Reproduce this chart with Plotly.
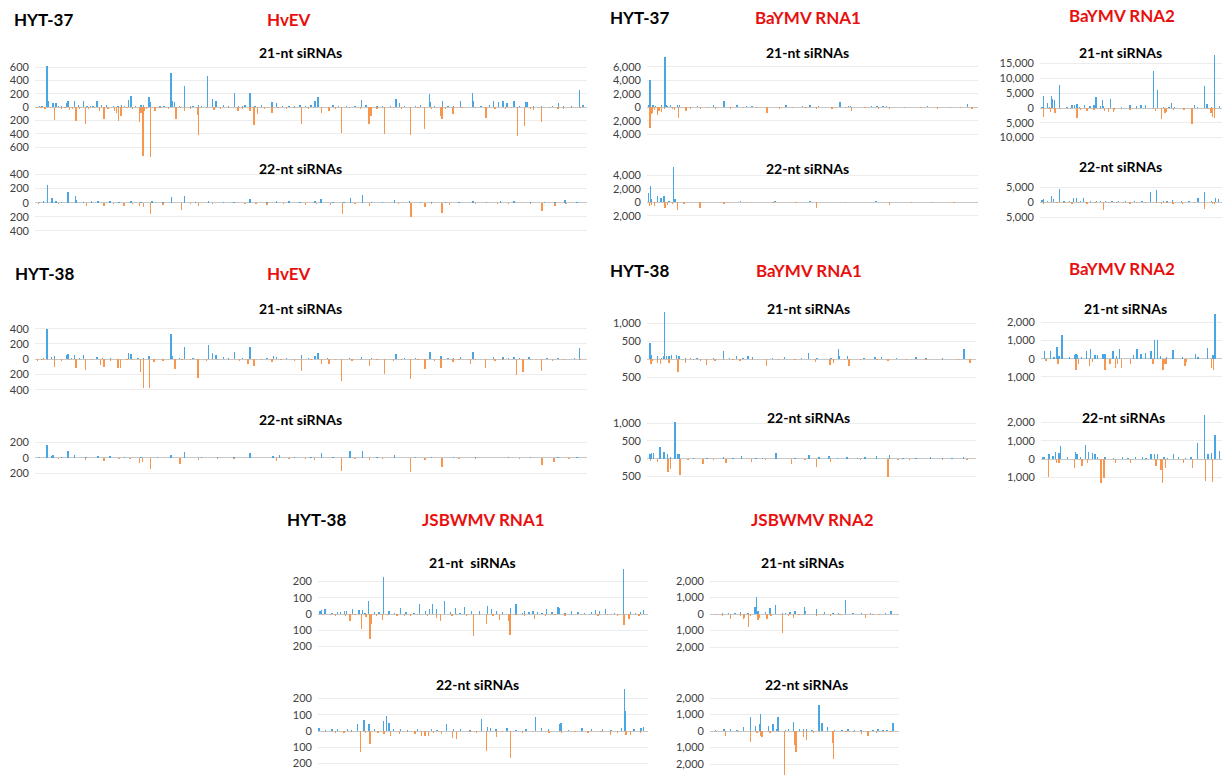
import plotly.graph_objects as go

W, H = 1232, 775

# ---------------- DATA (position along genome 0-1000, read counts) ----------------
# HYT-37 HvEV 21-nt
hv37_21_s_pos = [19, 21, 30, 35, 45, 54, 57, 69, 85, 98, 110, 127, 140, 155, 167, 172, 190, 205, 207, 225, 245, 248, 251, 270, 285, 311, 321, 327, 340, 361, 375, 389, 410, 429, 437, 460, 480, 507, 513, 540, 592, 620, 655, 661, 690, 716, 717, 740, 773, 794, 796, 833, 842, 850, 857, 870, 892, 895, 920, 951, 989, 996,
                 5, 10, 40, 63, 76, 92, 103, 118, 133, 148, 160, 180, 195, 215, 232, 260, 280, 295, 300, 335, 350, 368, 380, 398, 420, 448, 470, 490, 500, 525, 550, 565, 580, 600, 610, 630, 645, 670, 680, 700, 725, 750, 760, 785, 810, 825, 880, 905, 930, 940, 960, 975]
hv37_21_s_val = [622, 100, 70, 70, 20, 60, 100, 100, 90, 25, 100, 40, 20, 30, 110, 165, 30, 150, 80, 20, 520, 90, 80, 320, 25, 470, 130, 100, 40, 220, 20, 215, 30, 80, 60, 20, 30, 100, 160, 30, 110, 20, 130, 60, 25, 200, 80, 100, 100, 210, 100, 90, 80, 100, 60, 100, 80, 80, 25, 60, 260, 40,
                 15, 20, 25, 10, 30, 15, 20, 35, 10, 25, 20, 15, 30, 10, 20, 25, 15, 30, 20, 10, 25, 15, 30, 20, 10, 25, 20, 15, 30, 10, 20, 15, 25, 30, 10, 20, 15, 25, 10, 30, 20, 15, 25, 10, 20, 30, 15, 25, 10, 20, 15, 25]
hv37_21_a_pos = [2, 32, 60, 72, 78, 89, 115, 123, 142, 145, 149, 154, 187, 190, 194, 197, 207, 216, 254, 270, 293, 295, 323, 367, 389, 396, 402, 429, 483, 519, 533, 556, 606, 609, 634, 681, 707, 737, 739, 759, 819, 876, 889, 906, 920, 960,
                 8, 15, 25, 45, 52, 65, 95, 105, 130, 165, 175, 200, 225, 240, 262, 280, 310, 335, 350, 375, 415, 440, 455, 470, 495, 505, 545, 570, 590, 620, 650, 665, 695, 720, 745, 775, 800, 835, 855, 865, 900, 935, 950, 975, 990]
hv37_21_a_val = [-10, -185, -40, -210, -30, -250, -60, -170, -60, -80, -200, -130, -220, -80, -730, -60, -740, -60, -170, -60, -120, -410, -40, -50, -60, -260, -100, -80, -250, -90, -60, -380, -250, -130, -400, -420, -330, -130, -180, -100, -160, -430, -280, -40, -220, -20,
                 -15, -20, -10, -25, -15, -30, -20, -10, -25, -15, -20, -30, -10, -25, -15, -20, -10, -30, -15, -20, -25, -10, -30, -15, -20, -10, -25, -15, -30, -20, -10, -25, -15, -20, -30, -10, -15, -25, -20, -10, -30, -15, -20, -10, -15]

# HYT-37 HvEV 22-nt
hv37_22_s_pos = [12, 20, 28, 35, 57, 71, 73, 100, 112, 134, 172, 246, 270, 313, 389, 437, 507, 518, 572, 594, 652, 795, 870, 963,
                 5, 45, 85, 150, 190, 210, 230, 290, 340, 360, 420, 460, 480, 540, 560, 610, 630, 680, 700, 720, 745, 770, 820, 845, 900, 925, 945, 985]
hv37_22_s_val = [20, 247, 60, 20, 145, 95, 40, 20, 30, 30, 30, 75, 100, 20, 50, 20, 30, 50, 70, 110, 45, 20, 20, 40,
                 10, 15, 10, 15, 10, 20, 10, 15, 10, 15, 10, 20, 10, 15, 10, 15, 10, 20, 10, 15, 10, 15, 10, 20, 10, 15, 10, 15]
hv37_22_a_pos = [3, 91, 123, 159, 187, 195, 207, 230, 264, 295, 380, 420, 450, 490, 536, 557, 607, 682, 708, 739, 752, 860, 921, 945,
                 40, 60, 140, 175, 250, 280, 320, 345, 400, 470, 510, 580, 630, 660, 720, 780, 800, 840, 880, 900, 965, 990]
hv37_22_a_val = [-15, -40, -50, -40, -40, -60, -160, -30, -100, -40, -20, -30, -20, -30, -30, -160, -40, -210, -60, -140, -30, -20, -120, -50,
                 -15, -10, -20, -15, -10, -15, -20, -10, -15, -10, -20, -15, -10, -15, -20, -10, -15, -25, -10, -20, -15, -10]

# HYT-37 BaYMV RNA1 21-nt
b1_37_21_s_pos = [3, 6, 8, 15, 22, 41, 52, 55, 60, 68, 90, 95, 200, 231, 271, 316, 419, 492, 519, 583, 586, 610, 615, 696, 714, 724, 971,
                  120, 150, 170, 250, 300, 350, 380, 450, 470, 540, 650, 680, 750, 800, 850, 900, 930]
b1_37_21_s_val = [300, 4100, 500, 300, 250, 300, 7500, 300, 200, 400, 300, 300, 400, 930, 300, 150, 300, 300, 150, 730, 500, 200, 200, 200, 200, 250, 450,
                  100, 150, 100, 100, 150, 100, 100, 100, 150, 100, 100, 150, 100, 100, 150, 100, 100]
b1_37_21_a_pos = [6, 9, 12, 19, 29, 34, 41, 51, 74, 80, 92, 115, 160, 205, 362, 513, 558, 618, 734, 985,
                  130, 180, 250, 290, 330, 400, 440, 480, 560, 600, 660, 700, 780, 830, 880, 920, 950]
b1_37_21_a_val = [-3000, -1000, -800, -400, -1100, -600, -700, -300, -300, -400, -1600, -600, -300, -200, -900, -200, -300, -600, -200, -200,
                  -200, -150, -200, -150, -100, -200, -150, -100, -200, -150, -100, -200, -150, -100, -200, -150, -100]

# HYT-37 BaYMV RNA1 22-nt
b1_37_22_s_pos = [2, 7, 10, 29, 39, 49, 64, 78, 82, 281, 386, 492, 693,
                  130, 200, 330, 440, 560, 620, 760, 840, 900, 960]
b1_37_22_s_val = [1400, 2400, 500, 900, 700, 900, 200, 5200, 500, 200, 200, 150, 150,
                  100, 80, 100, 80, 100, 80, 100, 80, 100, 80]
b1_37_22_a_pos = [4, 10, 19, 52, 59, 74, 90, 110, 158, 231, 513, 734, 864,
                  300, 380, 450, 600, 800, 930]
b1_37_22_a_val = [-500, -400, -600, -900, -400, -300, -1100, -300, -800, -200, -800, -400, -100,
                  -100, -80, -100, -80, -100, -80]

# HYT-37 BaYMV RNA2 21-nt
b2_37_21_s_pos = [9, 15, 40, 49, 60, 67, 77, 104, 146, 174, 189, 201, 216, 243, 274, 296, 306, 330, 342, 348, 388, 449, 495, 531, 555, 579, 623, 645, 678, 711, 723, 741, 852, 866, 907, 920, 945, 962, 989]
b2_37_21_s_val = [500, 4100, 1800, 500, 4100, 3000, 2700, 7800, 500, 1000, 1000, 1200, 300, 1000, 700, 1000, 3700, 700, 2600, 800, 2900, 300, 1000, 800, 1000, 1000, 12500, 6200, 400, 500, 1800, 300, 1100, 500, 7500, 1200, 400, 18000, 600]
b2_37_21_a_pos = [15, 46, 55, 79, 110, 165, 201, 220, 256, 296, 330, 353, 375, 403, 408, 495, 531, 619, 637, 668, 687, 696, 736, 793, 837, 925, 943, 952, 962]
b2_37_21_a_val = [-3000, -500, -1200, -1700, -400, -300, -3400, -600, -1100, -800, -500, -1000, -1200, -1400, -600, -800, -300, -500, -1000, -3600, -1600, -1400, -600, -800, -5500, -400, -1700, -3200, -3300]

# HYT-37 BaYMV RNA2 22-nt
b2_37_22_s_pos = [9, 15, 40, 59, 73, 104, 183, 198, 238, 275, 308, 394, 608, 641, 678, 729, 870, 907, 967, 985,
                  130, 160, 220, 330, 360, 430, 470, 520, 560, 700, 780, 820, 945]
b2_37_22_s_val = [600, 1100, 500, 2000, 900, 4300, 1200, 1200, 1300, 300, 400, 500, 3200, 3900, 300, 800, 1500, 3300, 1200, 1000,
                  200, 300, 200, 300, 200, 200, 300, 200, 200, 300, 200, 300, 200]
b2_37_22_a_pos = [15, 92, 174, 256, 348, 375, 495, 531, 641, 668, 733, 784, 907, 949, 962,
                  50, 130, 210, 300, 420, 460, 580, 700, 850]
b2_37_22_a_val = [-600, -300, -700, -800, -2500, -400, -700, -200, -400, -800, -600, -500, -2200, -800, -500,
                  -200, -200, -300, -200, -300, -200, -200, -300, -200]

# HYT-38 HvEV 21-nt
hv38_21_s_pos = [19, 27, 33, 54, 57, 69, 85, 110, 167, 172, 205, 245, 248, 270, 313, 321, 327, 340, 361, 389, 432, 437, 483, 507, 513, 592, 655, 717, 737, 773, 795, 833, 850, 870, 897, 989,
                 5, 12, 40, 63, 78, 95, 120, 135, 150, 185, 195, 225, 260, 285, 300, 350, 375, 400, 420, 455, 470, 495, 530, 550, 570, 610, 630, 670, 690, 705, 750, 760, 810, 860, 880, 915, 930, 950, 965, 980]
hv38_21_s_val = [400, 30, 40, 60, 65, 50, 50, 30, 80, 70, 40, 330, 40, 165, 185, 80, 60, 30, 100, 155, 40, 30, 60, 40, 80, 35, 70, 100, 40, 30, 100, 25, 30, 25, 35, 150,
                 10, 15, 10, 20, 15, 10, 20, 15, 10, 20, 15, 10, 20, 15, 10, 20, 15, 10, 20, 15, 10, 20, 15, 10, 20, 15, 10, 20, 15, 10, 20, 15, 10, 20, 15, 10, 20, 15, 10, 20]
hv38_21_a_pos = [2, 32, 72, 89, 116, 123, 148, 153, 189, 195, 206, 214, 252, 294, 385, 396, 429, 483, 519, 533, 556, 607, 634, 681, 708, 737, 759, 791, 818, 874, 886, 920,
                 10, 20, 45, 60, 100, 135, 165, 175, 230, 265, 280, 310, 330, 350, 370, 410, 445, 470, 500, 545, 575, 590, 620, 650, 665, 695, 725, 770, 800, 835, 850, 900, 940, 960, 990]
hv38_21_a_val = [-20, -100, -120, -140, -80, -95, -110, -110, -160, -380, -370, -40, -130, -240, -60, -90, -40, -150, -60, -60, -280, -90, -190, -260, -130, -120, -40, -60, -110, -200, -160, -150,
                 -10, -15, -20, -10, -15, -20, -10, -15, -20, -10, -15, -20, -10, -15, -20, -10, -15, -20, -10, -15, -20, -10, -15, -20, -10, -15, -20, -10, -15, -20, -10, -15, -20, -10, -15]

# HYT-38 HvEV 22-nt
hv38_22_s_pos = [19, 27, 30, 57, 69, 112, 134, 245, 270, 389, 431, 443, 519, 571, 594, 652,
                 5, 45, 90, 160, 190, 220, 300, 330, 360, 470, 500, 540, 620, 690, 720, 760, 800, 860, 900, 950, 985]
hv38_22_s_val = [160, 20, 35, 80, 30, 20, 20, 30, 70, 60, 20, 30, 60, 80, 90, 40,
                 10, 10, 15, 10, 10, 15, 10, 10, 15, 10, 10, 15, 10, 10, 15, 10, 10, 15, 10, 10, 15]
hv38_22_a_pos = [3, 89, 123, 187, 193, 207, 261, 295, 437, 506, 556, 607, 681, 708, 739, 921, 943,
                 40, 70, 150, 170, 230, 330, 360, 400, 460, 490, 530, 580, 630, 660, 770, 800, 850, 880, 970]
hv38_22_a_val = [-10, -30, -40, -70, -50, -150, -80, -30, -40, -30, -170, -30, -190, -30, -120, -90, -50,
                 -15, -10, -20, -15, -10, -20, -15, -10, -20, -15, -10, -20, -15, -10, -20, -15, -10, -20, -15]

# HYT-38 BaYMV RNA1 21-nt
b1_38_21_s_pos = [6, 9, 11, 29, 41, 47, 51, 56, 64, 72, 88, 95, 115, 130, 200, 231, 271, 291, 306, 319, 417, 490, 517, 583, 586, 610, 694, 714, 820, 966,
                  150, 170, 250, 350, 380, 440, 470, 540, 560, 640, 660, 740, 760, 780, 850, 880, 900, 930]
b1_38_21_s_val = [450, 100, 120, 80, 50, 100, 1320, 80, 90, 130, 120, 90, 50, 40, 50, 240, 80, 50, 80, 60, 60, 170, 40, 300, 100, 80, 60, 70, 60, 300,
                  30, 20, 30, 20, 30, 20, 30, 20, 30, 20, 30, 20, 30, 20, 30, 20, 30, 20]
b1_38_21_a_pos = [9, 14, 29, 39, 64, 92, 115, 160, 178, 205, 281, 362, 513, 556, 568, 615, 734, 985,
                  140, 230, 260, 320, 400, 450, 600, 650, 700, 790, 850, 900, 950]
b1_38_21_a_val = [-120, -60, -90, -120, -90, -360, -100, -60, -160, -50, -50, -180, -70, -160, -100, -190, -60, -100,
                  -30, -20, -30, -20, -30, -20, -30, -20, -30, -20, -30, -20, -30]

# HYT-38 BaYMV RNA1 22-nt
b1_38_22_s_pos = [6, 10, 16, 37, 49, 59, 69, 83, 90, 95, 231, 286, 392, 492, 523, 553, 608, 664, 699, 739, 864, 965,
                  140, 180, 260, 330, 350, 450, 580, 640, 780, 820, 900, 930]
b1_38_22_s_val = [130, 150, 160, 320, 180, 120, 60, 1020, 130, 120, 50, 80, 150, 100, 60, 70, 60, 60, 90, 100, 50, 40,
                  20, 30, 20, 30, 20, 30, 20, 30, 20, 30, 20, 30]
b1_38_22_a_pos = [8, 29, 61, 69, 98, 122, 168, 239, 316, 439, 515, 558, 734, 764, 975,
                  200, 280, 360, 400, 480, 600, 650, 700, 800, 850, 900]
b1_38_22_a_val = [-60, -100, -370, -300, -450, -50, -140, -120, -80, -140, -230, -90, -500, -40, -40,
                  -30, -20, -30, -20, -30, -20, -30, -20, -30, -20, -30]

# HYT-38 BaYMV RNA2 21-nt
b2_38_21_s_pos = [18, 51, 70, 86, 97, 114, 156, 183, 192, 201, 223, 251, 271, 297, 311, 341, 353, 397, 418, 432, 511, 531, 553, 577, 608, 628, 645, 660, 696, 731, 782, 855, 870, 921, 952, 965]
b2_38_21_s_val = [450, 450, 100, 650, 150, 1300, 100, 200, 250, 200, 100, 400, 550, 200, 200, 250, 250, 400, 150, 550, 200, 550, 250, 300, 450, 1030, 1000, 150, 100, 500, 100, 250, 100, 600, 200, 2480]
b2_38_21_a_pos = [24, 92, 192, 205, 267, 284, 353, 381, 412, 421, 445, 494, 619, 674, 687, 696, 797, 806, 943, 956]
b2_38_21_a_val = [-100, -300, -600, -300, -400, -200, -600, -300, -500, -300, -500, -300, -300, -600, -300, -300, -400, -200, -500, -600]

# HYT-38 BaYMV RNA2 22-nt
b2_38_22_s_pos = [9, 18, 42, 64, 79, 97, 106, 143, 188, 197, 216, 243, 262, 284, 297, 311, 353, 522, 608, 628, 645, 733, 866, 907, 925, 943, 965, 989,
                  400, 450, 480, 560, 580, 680, 700, 760, 800, 830]
b2_38_22_s_val = [100, 100, 300, 150, 400, 350, 700, 100, 400, 300, 100, 750, 400, 350, 300, 100, 100, 100, 300, 300, 300, 250, 900, 2400, 250, 350, 1300, 450,
                  80, 100, 80, 100, 80, 100, 80, 100, 80, 100]
b2_38_22_a_pos = [40, 82, 97, 183, 225, 256, 331, 348, 412, 494, 637, 663, 672, 690, 788, 839, 910, 949]
b2_38_22_a_val = [-1000, -200, -200, -500, -400, -200, -1300, -1050, -200, -200, -400, -600, -1300, -500, -200, -500, -1200, -1250]

# HYT-38 JSBWMV RNA1 21-nt
js1_21_s_pos = [3, 8, 18, 56, 78, 84, 102, 122, 132, 151, 183, 196, 214, 248, 307, 324, 337, 346, 359, 383, 416, 443, 465, 490, 513, 526, 541, 583, 600, 627, 652, 667, 694, 729, 733, 769, 843, 855, 873, 928, 980, 990,
                40, 65, 140, 170, 230, 265, 290, 400, 430, 560, 620, 640, 680, 710, 750, 790, 810, 830, 900, 950, 965]
js1_21_s_val = [20, 25, 30, 15, 20, 20, 30, 25, 25, 80, 15, 225, 20, 35, 60, 20, 30, 60, 30, 80, 35, 45, 20, 20, 50, 30, 20, 35, 60, 20, 20, 15, 30, 40, 35, 20, 25, 20, 30, 275, 10, 25,
                8, 10, 8, 12, 8, 10, 8, 12, 8, 10, 8, 12, 8, 10, 8, 12, 8, 10, 8, 12, 8]
js1_21_a_pos = [35, 81, 95, 129, 143, 155, 159, 193, 238, 279, 359, 370, 405, 471, 511, 551, 577, 582, 626, 657, 930, 945, 976,
                10, 50, 110, 175, 210, 260, 300, 330, 420, 450, 490, 530, 600, 690, 720, 750, 800, 850, 880, 910]
js1_21_a_val = [-5, -15, -45, -90, -20, -155, -60, -35, -15, -15, -25, -45, -15, -135, -60, -35, -40, -130, -15, -30, -65, -30, -15,
                -8, -10, -8, -12, -8, -10, -8, -12, -8, -10, -8, -12, -8, -10, -8, -12, -8, -10, -8, -12]

# HYT-38 JSBWMV RNA1 22-nt
js1_22_s_pos = [0, 56, 86, 117, 137, 152, 196, 205, 213, 228, 248, 343, 388, 432, 496, 513, 523, 573, 631, 660, 678, 734, 738, 802, 864, 922, 931, 935, 982, 990,
                20, 40, 100, 170, 270, 300, 360, 410, 460, 540, 600, 700, 760, 830, 890, 960]
js1_22_s_val = [20, 10, 15, 40, 70, 40, 60, 90, 50, 15, 10, 15, 40, 10, 75, 25, 20, 20, 15, 85, 20, 45, 50, 20, 15, 20, 260, 120, 20, 25,
                8, 10, 8, 12, 8, 10, 8, 12, 8, 10, 8, 12, 8, 10, 8, 12]
js1_22_a_pos = [76, 127, 141, 155, 198, 218, 245, 293, 313, 323, 333, 374, 407, 420, 511, 541, 584, 701, 888, 936, 949, 980,
                20, 50, 100, 180, 270, 350, 460, 480, 560, 620, 650, 740, 780, 820, 860, 910]
js1_22_a_val = [-15, -130, -15, -80, -20, -30, -20, -20, -30, -30, -30, -20, -40, -50, -120, -35, -165, -15, -25, -25, -25, -15,
                -8, -10, -8, -12, -8, -10, -8, -12, -8, -10, -8, -12, -8, -10, -8, -12]

# HYT-38 JSBWMV RNA2 21-nt
js2_21_s_pos = [62, 97, 159, 199, 236, 243, 252, 291, 317, 344, 384, 423, 450, 499, 506, 564, 608, 652, 718, 758, 802, 961,
                20, 130, 280, 400, 540, 680, 780, 850, 900, 930]
js2_21_s_val = [60, 50, 100, 60, 450, 1050, 200, 150, 350, 550, 80, 100, 180, 400, 200, 300, 130, 80, 830, 60, 50, 170,
                30, 40, 30, 40, 30, 40, 30, 40, 30, 40]
js2_21_a_pos = [62, 106, 159, 176, 182, 203, 212, 252, 261, 300, 321, 383, 415, 441, 494, 564, 638, 688, 824, 864,
                30, 130, 470, 540, 600, 750, 900, 950]
js2_21_a_val = [-100, -300, -150, -300, -250, -800, -150, -350, -250, -300, -100, -1150, -100, -250, -60, -120, -100, -50, -250, -50,
                -40, -30, -40, -30, -40, -30, -40, -30]

# HYT-38 JSBWMV RNA2 22-nt
js2_22_s_pos = [27, 71, 106, 176, 212, 238, 261, 266, 308, 332, 353, 358, 414, 441, 473, 494, 511, 578, 594, 622, 731, 767, 864, 891, 917, 970,
                140, 400, 540, 660, 700, 800, 940]
js2_22_s_val = [50, 150, 100, 250, 850, 300, 450, 1000, 300, 450, 100, 850, 100, 560, 100, 150, 150, 1550, 500, 250, 100, 50, 80, 100, 80, 500,
                40, 60, 40, 60, 40, 60, 40]
js2_22_a_pos = [79, 212, 247, 266, 273, 317, 393, 450, 455, 494, 511, 547, 650, 653, 803, 838, 882,
                30, 150, 360, 580, 720, 760, 920, 960]
js2_22_a_val = [-300, -650, -100, -300, -350, -100, -2650, -850, -1250, -350, -550, -150, -700, -1700, -200, -300, -100,
                -40, -60, -40, -60, -40, -60, -40, -60]

# ---------------- LAYOUT GEOMETRY (pixels) ----------------
# (sense_pos, sense_val, anti_pos, anti_val, x0, x1, zero_px, px_per_unit, lo, hi, ticks)
panels = [
    (hv37_21_s_pos, hv37_21_s_val, hv37_21_a_pos, hv37_21_a_val, 35, 587, 107.3, 0.0667, -800, 700, [-600, -400, -200, 0, 200, 400, 600]),
    (hv37_22_s_pos, hv37_22_s_val, hv37_22_a_pos, hv37_22_a_val, 35, 587, 202.7, 0.0704, -470, 450, [-400, -200, 0, 200, 400]),
    (b1_37_21_s_pos, b1_37_21_s_val, b1_37_21_a_pos, b1_37_21_a_val, 647, 978, 107.3, 0.00677, -4600, 8000, [-4000, -2000, 0, 2000, 4000, 6000]),
    (b1_37_22_s_pos, b1_37_22_s_val, b1_37_22_a_pos, b1_37_22_a_val, 647, 978, 202.3, 0.0068, -2600, 5600, [-2000, 0, 2000, 4000]),
    (b2_37_21_s_pos, b2_37_21_s_val, b2_37_21_a_pos, b2_37_21_a_val, 1040, 1222, 108, 0.00296, -11500, 19000, [-10000, -5000, 0, 5000, 10000, 15000]),
    (b2_37_22_s_pos, b2_37_22_s_val, b2_37_22_a_pos, b2_37_22_a_val, 1040, 1222, 202, 0.003, -6000, 6000, [-5000, 0, 5000]),
    (hv38_21_s_pos, hv38_21_s_val, hv38_21_a_pos, hv38_21_a_val, 35, 587, 359.3, 0.0766, -450, 450, [-400, -200, 0, 200, 400]),
    (hv38_22_s_pos, hv38_22_s_val, hv38_22_a_pos, hv38_22_a_val, 35, 587, 457.7, 0.0775, -250, 250, [-200, 0, 200]),
    (b1_38_21_s_pos, b1_38_21_s_val, b1_38_21_a_pos, b1_38_21_a_val, 647, 976, 359.3, 0.036, -700, 1450, [-500, 0, 500, 1000]),
    (b1_38_22_s_pos, b1_38_22_s_val, b1_38_22_a_pos, b1_38_22_a_val, 647, 976, 458.7, 0.0356, -620, 1200, [-500, 0, 500, 1000]),
    (b2_38_21_s_pos, b2_38_21_s_val, b2_38_21_a_pos, b2_38_21_a_val, 1041, 1222, 358.7, 0.0182, -1500, 2800, [-1000, 0, 1000, 2000]),
    (b2_38_22_s_pos, b2_38_22_s_val, b2_38_22_a_pos, b2_38_22_a_val, 1041, 1222, 459, 0.0182, -1500, 2700, [-1000, 0, 1000, 2000]),
    (js1_21_s_pos, js1_21_s_val, js1_21_a_pos, js1_21_a_val, 318, 648, 614, 0.163, -220, 290, [-200, -100, 0, 100, 200]),
    (js1_22_s_pos, js1_22_s_val, js1_22_a_pos, js1_22_a_val, 318, 648, 731, 0.163, -220, 280, [-200, -100, 0, 100, 200]),
    (js2_21_s_pos, js2_21_s_val, js2_21_a_pos, js2_21_a_val, 710, 899, 614, 0.0165, -2300, 2300, [-2000, -1000, 0, 1000, 2000]),
    (js2_22_s_pos, js2_22_s_val, js2_22_a_pos, js2_22_a_val, 710, 899, 731, 0.0165, -2660, 2300, [-2000, -1000, 0, 1000, 2000]),
]

SENSE = "#4AA6E2"
ANTI = "#F7964F"
GRID = "#ECECEC"
FONT = "Lato"

fig = go.Figure()
layout = {}
for i, (sp, sv, ap, av, x0, x1, z, s, lo, hi, ticks) in enumerate(panels, start=1):
    sx = "" if i == 1 else str(i)
    top = z - hi * s
    bot = z - lo * s
    ydom = [max(0.0, 1 - bot / H), min(1.0, 1 - top / H)]
    xdom = [x0 / W, x1 / W]
    bw = 1.4 * 1000 / (x1 - x0)
    fig.add_trace(go.Bar(x=sp, y=sv, width=bw, marker_color=SENSE, marker_line_width=0,
                         xaxis="x" + sx, yaxis="y" + sx, showlegend=False, hoverinfo="skip"))
    fig.add_trace(go.Bar(x=ap, y=av, width=bw, marker_color=ANTI, marker_line_width=0,
                         xaxis="x" + sx, yaxis="y" + sx, showlegend=False, hoverinfo="skip"))
    layout["xaxis" + sx] = dict(domain=xdom, range=[-3, 1003], anchor="y" + sx, visible=False, fixedrange=True)
    layout["yaxis" + sx] = dict(domain=ydom, range=[lo, hi], anchor="x" + sx,
                                tickvals=ticks, ticktext=[f"{abs(t):,}" for t in ticks],
                                showgrid=True, gridcolor=GRID, gridwidth=1, zeroline=True,
                                zerolinecolor="#C8C8C8", zerolinewidth=1, showline=False,
                                ticks="", ticklabelstandoff=5, automargin=False,
                                tickfont=dict(family=FONT, size=11, color="#404040"), fixedrange=True)

fig.update_layout(**layout)

def ann(text, px, py, size, color="black", xanchor="center"):
    fig.add_annotation(text=f"<b>{text}</b>", x=px / W, y=1 - py / H, xref="paper", yref="paper",
                       xanchor=xanchor, yanchor="middle", showarrow=False,
                       font=dict(family=FONT, size=size, color=color))

RED = "#E8100F"
# Row 1
ann("HYT-37", 12, 20, 17, xanchor="left")
ann("HvEV", 288, 20, 17, RED)
ann("21-nt siRNAs", 300, 53, 14)
ann("22-nt siRNAs", 300, 168, 14)
ann("HYT-37", 608, 17, 17, xanchor="left")
ann("BaYMV RNA1", 808, 17, 17, RED)
ann("21-nt siRNAs", 807, 53, 14)
ann("22-nt siRNAs", 807, 168, 14)
ann("BaYMV RNA2", 1122, 15, 17, RED)
ann("21-nt siRNAs", 1120, 53, 14)
ann("22-nt siRNAs", 1120, 167, 14)
# Row 2
ann("HYT-38", 13, 273, 17, xanchor="left")
ann("HvEV", 288, 273, 17, RED)
ann("21-nt siRNAs", 300, 308, 14)
ann("22-nt siRNAs", 300, 419, 14)
ann("HYT-38", 608, 271, 17, xanchor="left")
ann("BaYMV RNA1", 809, 271, 17, RED)
ann("21-nt siRNAs", 809, 308, 14)
ann("22-nt siRNAs", 808, 418, 14)
ann("BaYMV RNA2", 1122, 268, 17, RED)
ann("21-nt siRNAs", 1125, 308, 14)
ann("22-nt siRNAs", 1123, 418, 14)
# Row 3
ann("HYT-38", 285, 519, 17, xanchor="left")
ann("JSBWMV RNA1", 483, 519, 17, RED)
ann("21-nt&nbsp;&nbsp;siRNAs", 472, 562, 14)
ann("22-nt siRNAs", 477, 684, 14)
ann("JSBWMV RNA2", 812, 519, 17, RED)
ann("21-nt siRNAs", 802, 562, 14)
ann("22-nt siRNAs", 806, 684, 14)

fig.update_layout(width=W, height=H, margin=dict(l=0, r=0, t=0, b=0, autoexpand=False),
                  paper_bgcolor="white", plot_bgcolor="white", barmode="overlay", bargap=0,
                  font=dict(family=FONT))

fig.write_html("out.html", config={"displayModeBar": False, "staticPlot": True},
               post_script="document.body.style.margin='0';document.body.style.overflow='hidden';")
